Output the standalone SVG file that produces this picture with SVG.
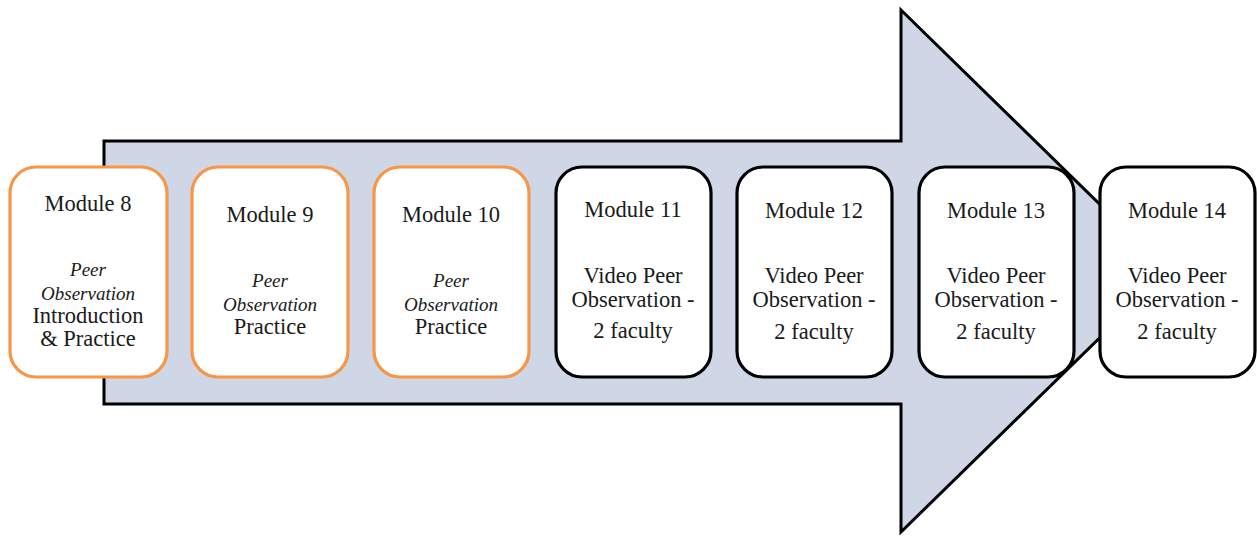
<svg xmlns="http://www.w3.org/2000/svg" width="1257" height="536" viewBox="0 0 1257 536">
<style>
.box{fill:#fff;stroke-width:3.2}
.or{stroke:#F79646}
.bk{stroke:#000}
.t{font-family:'Liberation Serif','Times New Roman',serif;fill:#1a1a1a;text-anchor:middle;font-size:22.5px}
.it{font-style:italic;font-size:19px}
</style>
<g id="arrow">
<path d="M104,141 H901 V10 L1168,271 L901,532 V404 H104 Z" fill="#CFD6E6" stroke="#000" stroke-width="3" stroke-linejoin="miter"/>
</g>
<g id="connectors"></g>
<g id="m8" class="t">
<rect class="box or" x="10" y="167" width="157" height="210" rx="26"/>
<text x="88" y="211">Module 8</text>
<text class="it" x="88" y="276">Peer</text>
<text class="it" x="88" y="300">Observation</text>
<text x="88" y="323">Introduction</text>
<text x="88" y="346">&amp; Practice</text>
</g>
<g id="m9" class="t">
<rect class="box or" x="192" y="167" width="156" height="210" rx="26"/>
<text x="270" y="222">Module 9</text>
<text class="it" x="270" y="287">Peer</text>
<text class="it" x="270" y="311">Observation</text>
<text x="270" y="334">Practice</text>
</g>
<g id="m10" class="t">
<rect class="box or" x="374" y="167" width="155" height="210" rx="26"/>
<text x="451" y="222">Module 10</text>
<text class="it" x="451" y="287">Peer</text>
<text class="it" x="451" y="311">Observation</text>
<text x="451" y="334">Practice</text>
</g>
<g id="m11" class="t">
<rect class="box bk" x="556" y="167" width="155" height="210" rx="26"/>
<text x="633" y="217">Module 11</text>
<text x="633" y="283">Video Peer</text>
<text x="633" y="307">Observation -</text>
<text x="633" y="338">2 faculty</text>
</g>
<g id="m12" class="t">
<rect class="box bk" x="737" y="167" width="155" height="210" rx="26"/>
<text x="814" y="218">Module 12</text>
<text x="814" y="283">Video Peer</text>
<text x="814" y="307">Observation -</text>
<text x="814" y="339">2 faculty</text>
</g>
<g id="m13" class="t">
<rect class="box bk" x="919" y="167" width="155" height="210" rx="26"/>
<text x="996" y="218">Module 13</text>
<text x="996" y="283">Video Peer</text>
<text x="996" y="307">Observation -</text>
<text x="996" y="339">2 faculty</text>
</g>
<g id="m14" class="t">
<rect class="box bk" x="1100" y="167" width="155" height="210" rx="26"/>
<text x="1177" y="218">Module 14</text>
<text x="1177" y="283">Video Peer</text>
<text x="1177" y="307">Observation -</text>
<text x="1177" y="339">2 faculty</text>
</g>
</svg>
